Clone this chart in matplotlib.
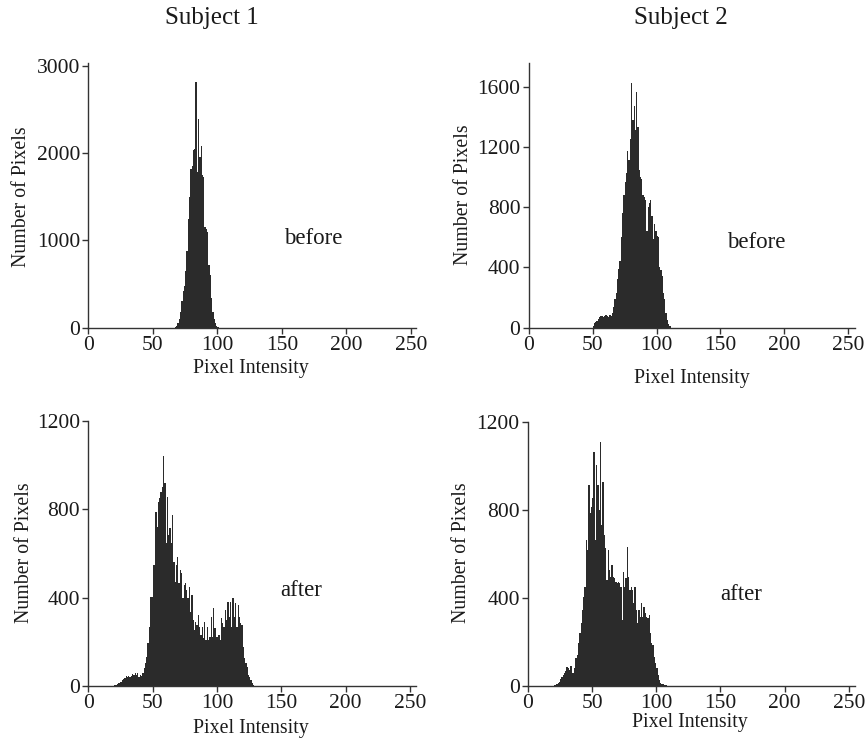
import matplotlib
matplotlib.use("Agg")
import matplotlib.pyplot as plt
import numpy as np

plt.rcParams['font.family'] = ['Liberation Serif', 'DejaVu Serif']

# ---------------- data ----------------
s1_before_start = 67
s1_before = [5, 20, 50, 100, 180, 300, 420, 480, 650, 880, 1250, 1500, 1820, 1850,
             2030, 2050, 2810, 1780, 2390, 1950, 2080, 1750, 1720, 1150, 1130, 1100,
             720, 600, 340, 180, 100, 50, 20, 5]

s2_before_start = 50
s2_before = [12, 28, 38, 45, 58, 72, 75, 80, 70, 78, 85, 80, 72, 82, 80, 95, 135, 190,
             230, 320, 390, 440, 600, 760, 880, 965, 1030, 1175, 1110, 1250, 1625, 1380,
             1470, 1310, 1565, 1330, 1050, 1000, 990, 880, 870, 850, 640, 800, 830, 850,
             740, 590, 690, 640, 610, 600, 400, 380, 340, 230, 190, 100, 50, 25, 10]

s1_after_start = 20
s1_after = [3, 6, 9, 12, 15, 20, 27, 33, 38, 45, 42, 45, 40, 45, 53, 48, 57, 50, 60, 42,
            50, 45, 57, 80, 103, 133, 193, 269, 405, 405, 548, 548, 790, 722, 835, 850,
            880, 900,
            1040, 918, 646, 857, 684, 714, 646, 774, 563, 472,
            548, 586, 465, 525, 510, 397, 457, 465, 435, 397,
            450, 337, 412, 299, 254, 291, 276, 322, 269, 231,
            269, 216, 291, 208, 269, 208, 223, 314, 223, 352,
            261, 223, 223, 231, 208, 306, 284, 269, 344, 299,
            382, 314, 382, 269, 397, 314, 374, 269, 367, 314,
            284, 276, 178, 125, 103, 88, 50, 42, 27, 12, 3]

s2_after_start = 20
s2_after = [3, 6, 9, 15, 20, 30, 42, 50, 57, 70, 85, 80, 73, 91, 57, 57, 80, 126, 141,
            194, 239, 285, 345, 406, 451, 663, 617, 913, 784, 814, 852, 1064, 663, 1003,
            913, 799, 1109, 731, 928, 686, 625, 481, 617, 527, 496, 549, 496, 489, 474,
            466, 474, 466, 451, 300, 519, 451, 489, 633, 496, 436, 451, 436, 375, 451,
            345, 285, 345, 315, 375, 315, 360, 330, 315, 307, 322, 239, 194, 186, 133,
            103, 80, 50, 27, 12, 9, 8, 6, 3]

panels = [
    dict(start=s1_before_start, counts=s1_before, ymax=3030, yticks=[0, 1000, 2000, 3000], word="before"),
    dict(start=s2_before_start, counts=s2_before, ymax=1755, yticks=[0, 400, 800, 1200, 1600], word="before"),
    dict(start=s1_after_start, counts=s1_after, ymax=1200, yticks=[0, 400, 800, 1200], word="after"),
    dict(start=s2_after_start, counts=s2_after, ymax=1200, yticks=[0, 400, 800, 1200], word="after"),
]
xticks = [0, 50, 100, 150, 200, 250]
titles = ["Subject 1", "Subject 2"]
xlabel = "Pixel Intensity"
ylabel = "Number of Pixels"

# ---------------- layout (pixels) ----------------
W, H = 866, 739
fig = plt.figure(figsize=(W / 100, H / 100), dpi=100)

def fx(x):
    return x / W

def fy(y):
    return 1 - y / H

axes_px = [  # left, top, right, bottom in pixels
    (88.3, 63.0, 416.0, 327.7),
    (528.7, 63.3, 855.3, 327.7),
    (88.3, 421.0, 416.5, 686.0),
    (528.0, 421.7, 855.0, 686.0),
]
xmax_list = [(416.0 - 88.3) / (322.7 / 250), (855.3 - 528.7) / (319.6 / 250),
             (416.5 - 88.3) / (321.7 / 250), (855.0 - 528.0) / (320.7 / 250)]

word_pos = [(312.8, 239), (756.5, 242), (301.3, 591), (741.5, 595)]
xlabel_pos = [(250.8, 368), (692, 379), (250.8, 728), (690, 723)]
ylabel_pos = [(21.7, 197), (463.3, 195), (24.3, 553), (461, 553)]

dark = '#2b2b2b'
for i, p in enumerate(panels):
    l, t, r, b = axes_px[i]
    ax = fig.add_axes([fx(l), fy(b), (r - l) / W, (b - t) / H])
    x = np.arange(p['start'], p['start'] + len(p['counts']))
    ax.bar(x, p['counts'], width=1.0, color=dark, edgecolor='none', align='edge', linewidth=0)
    ax.set_xlim(0, xmax_list[i])
    ax.set_ylim(0, p['ymax'])
    ax.set_xticks(xticks)
    ax.set_yticks(p['yticks'])
    for s in ['top', 'right']:
        ax.spines[s].set_visible(False)
    for s in ['left', 'bottom']:
        ax.spines[s].set_color('#333333')
        ax.spines[s].set_linewidth(1.0)
    ax.tick_params(axis='both', direction='out', length=4, width=1.0, color='#333333',
                   labelsize=15.5, labelcolor='#1a1a1a', pad=2)
    fig.text(fx(word_pos[i][0]), fy(word_pos[i][1]), p['word'], ha='center', va='center',
             fontsize=16.5, color='#1a1a1a')
    fig.text(fx(xlabel_pos[i][0]), fy(xlabel_pos[i][1]), xlabel, ha='center', va='center',
             fontsize=14.3, color='#1a1a1a')
    fig.text(fx(ylabel_pos[i][0]), fy(ylabel_pos[i][1]), ylabel, ha='center', va='center',
             rotation=90, fontsize=14.3, color='#1a1a1a')

fig.text(fx(212), fy(18), titles[0], ha='center', va='center', fontsize=18, color='#1a1a1a')
fig.text(fx(681), fy(18), titles[1], ha='center', va='center', fontsize=18, color='#1a1a1a')

fig.savefig("out.png", dpi=100, facecolor='white')
